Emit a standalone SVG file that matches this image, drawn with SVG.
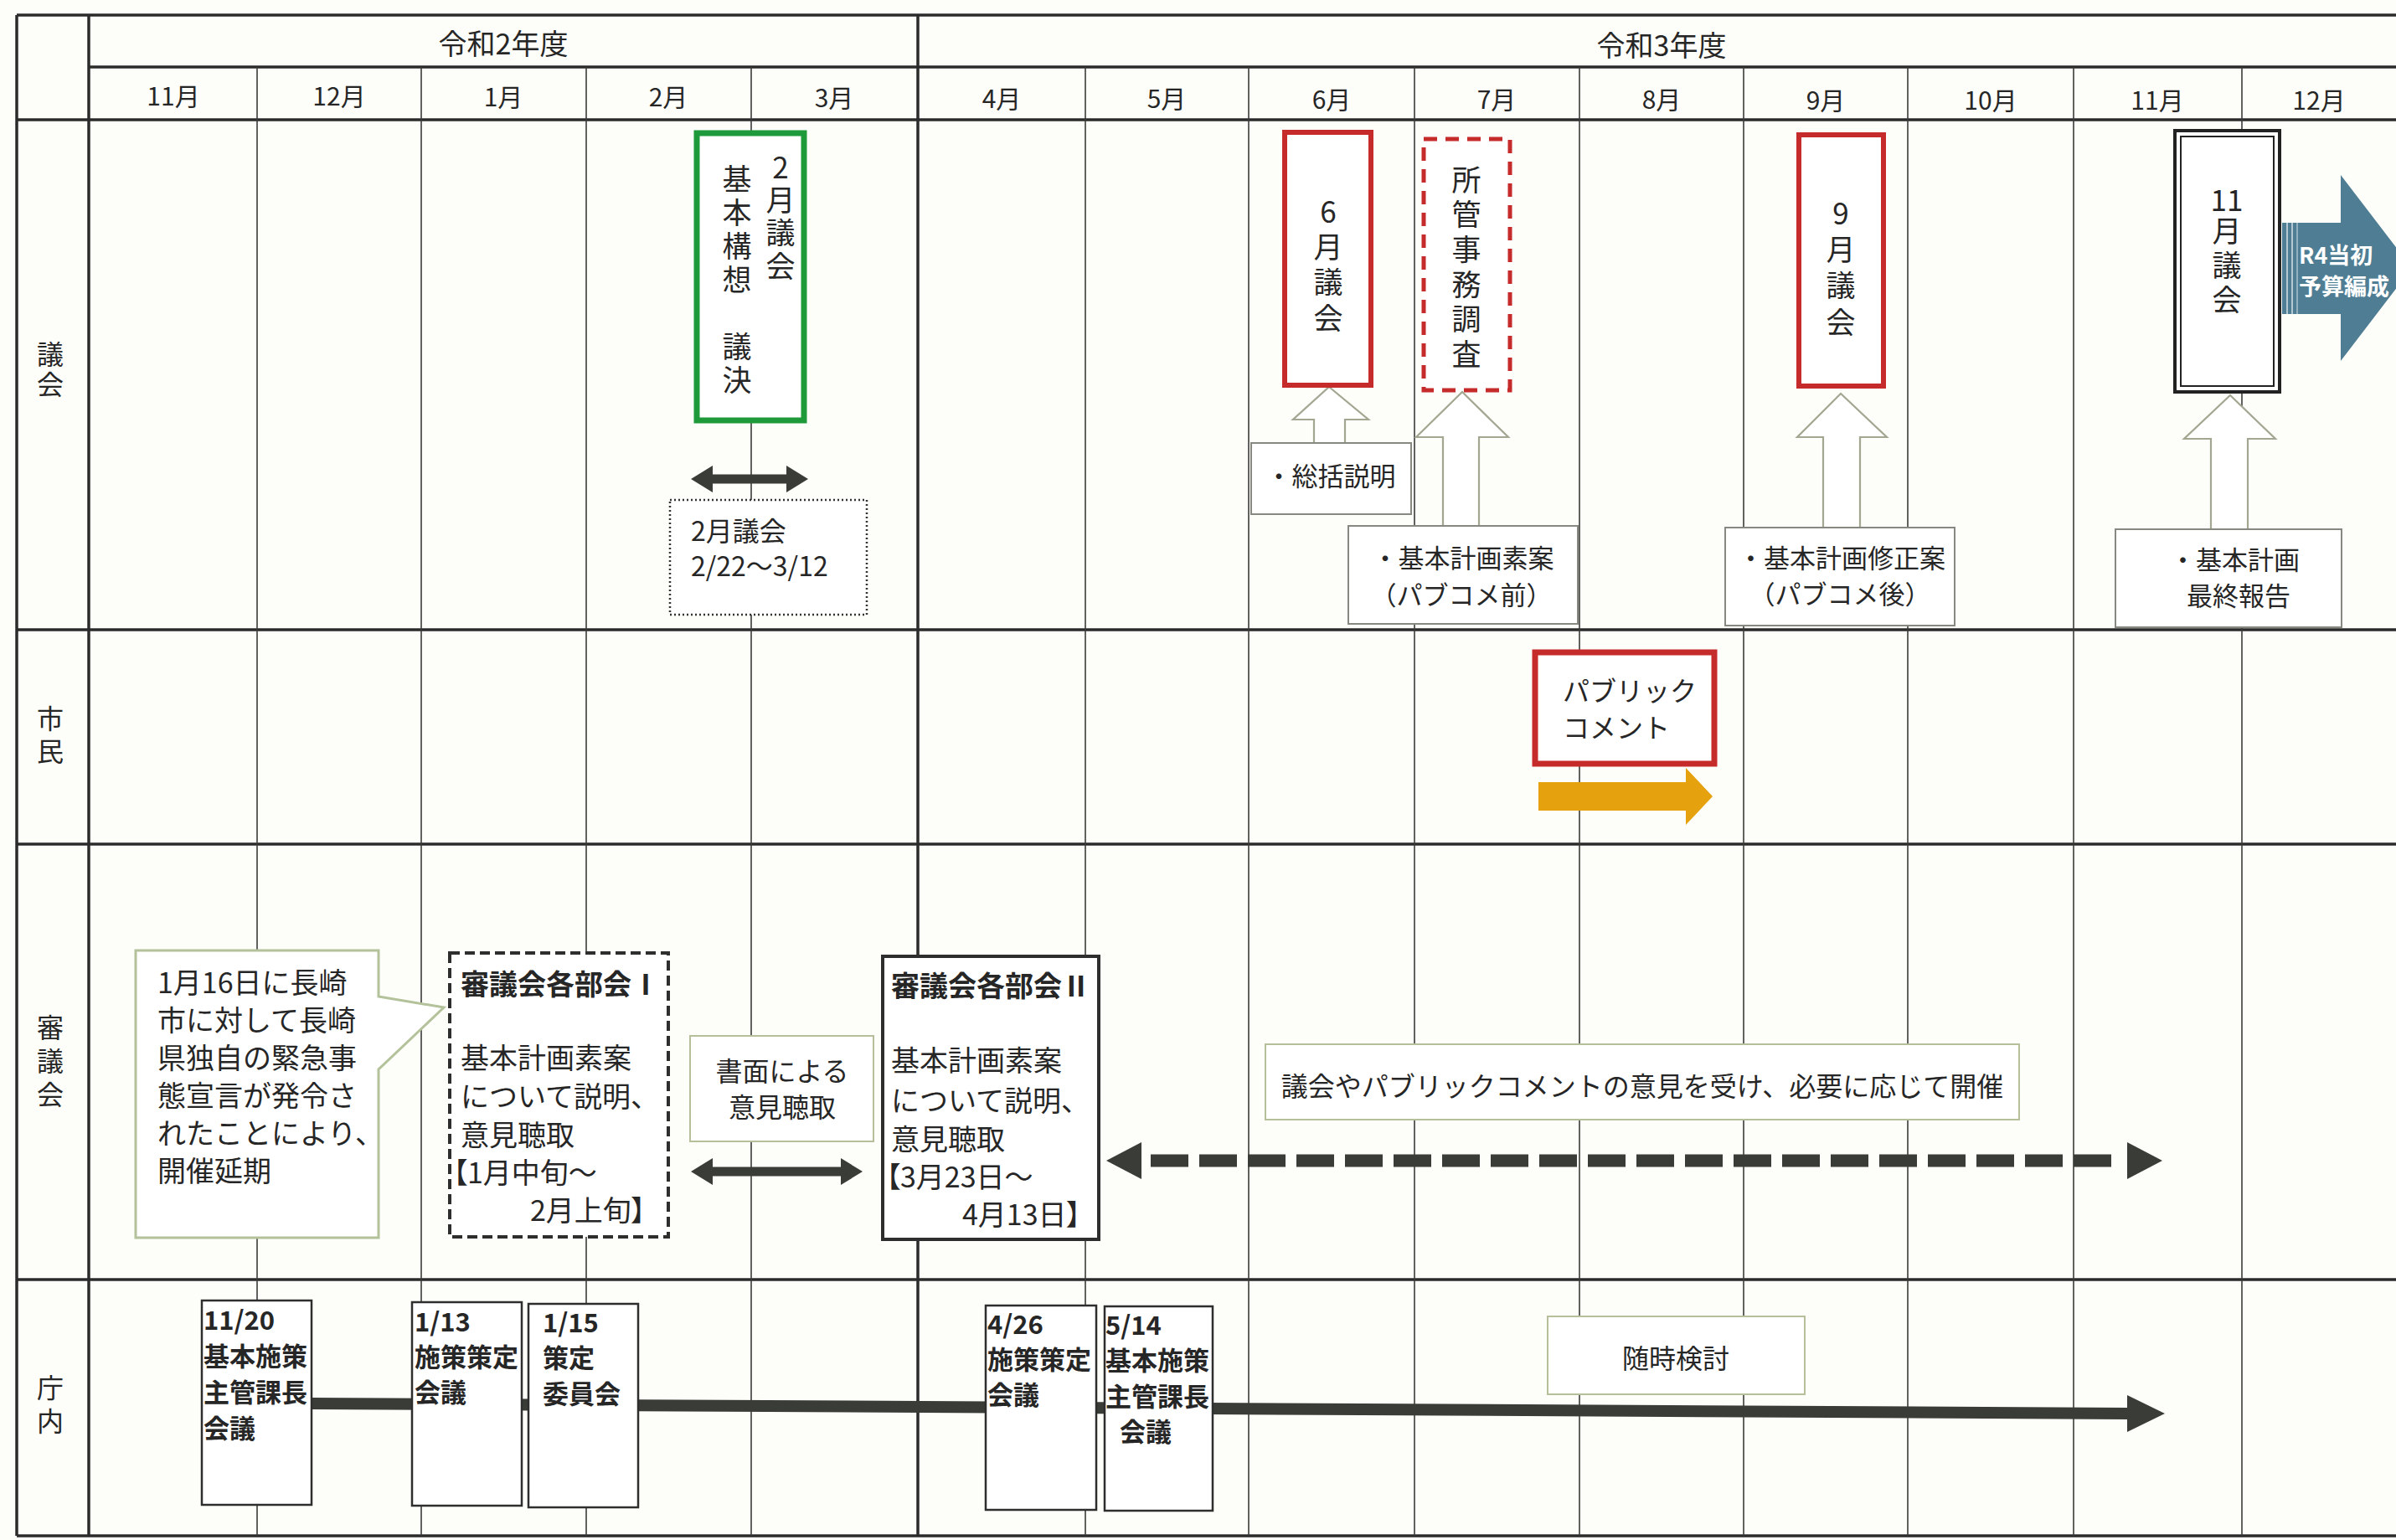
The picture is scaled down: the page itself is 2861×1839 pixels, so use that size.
<svg xmlns="http://www.w3.org/2000/svg" width="2861" height="1839" viewBox="0 0 2861 1839">
<style>
text{font-family:"Noto Sans CJK JP","Noto Sans CJK SC",sans-serif;fill:#262626;dominant-baseline:central}
.hd{font-size:34px;text-anchor:middle}
.mo{font-size:30px;text-anchor:middle}
.vt{writing-mode:vertical-rl;text-orientation:upright;font-size:35px}
.lbl{writing-mode:vertical-rl;text-orientation:upright;font-size:32px}
.s31{font-size:31px}
.s32{font-size:32px}
.s34{font-size:34px}
.mid{text-anchor:middle}
.bd{font-weight:700}
.palt{font-feature-settings:"palt"}
.hl{stroke:#2b2b2b;stroke-width:3.5;fill:none}
.vl{stroke:#3a3a3a;stroke-width:1.6}
.red{fill:#fff;stroke:#c62b2b;stroke-width:6}
.lite{fill:#fff;stroke:#b5c09b;stroke-width:2}
.hollow{fill:#fff;stroke:#a2a792;stroke-width:2.2}
.gbox{fill:#fff;stroke:#85897f;stroke-width:2}
.tbox{fill:#fff;stroke:#2e2e2e;stroke-width:2.5}
.dk{fill:#3a3c37}
.wt{fill:#ffffff;font-size:27px;font-weight:700}
</style>
<rect x="0" y="0" width="2861" height="1839" fill="#fdfdf9"/>

<g id="grid">
<line class="hl" x1="20" y1="18" x2="2861" y2="18"/>
<line class="hl" x1="106" y1="80" x2="2861" y2="80"/>
<line class="hl" x1="20" y1="143" x2="2861" y2="143"/>
<line class="hl" x1="20" y1="752" x2="2861" y2="752" stroke-width="2.5"/>
<line class="hl" x1="20" y1="1008" x2="2861" y2="1008" stroke-width="2.5"/>
<line class="hl" x1="20" y1="1528" x2="2861" y2="1528" stroke-width="3"/>
<line class="hl" x1="20" y1="1834" x2="2861" y2="1834" stroke-width="3"/>
<line class="hl" x1="20" y1="18" x2="20" y2="1834" stroke-width="4.5"/>
<line class="hl" x1="106" y1="18" x2="106" y2="1834" stroke-width="3"/>
<line class="hl" x1="1096" y1="18" x2="1096" y2="1834" stroke-width="3"/>
<line class="vl" x1="307" y1="80" x2="307" y2="1834"/>
<line class="vl" x1="503" y1="80" x2="503" y2="1834"/>
<line class="vl" x1="700" y1="80" x2="700" y2="1834"/>
<line class="vl" x1="897" y1="80" x2="897" y2="1834"/>
<line class="vl" x1="1296" y1="80" x2="1296" y2="1834"/>
<line class="vl" x1="1491" y1="80" x2="1491" y2="1834"/>
<line class="vl" x1="1689" y1="80" x2="1689" y2="1834"/>
<line class="vl" x1="1886" y1="80" x2="1886" y2="1834"/>
<line class="vl" x1="2082" y1="80" x2="2082" y2="1834"/>
<line class="vl" x1="2278" y1="80" x2="2278" y2="1834"/>
<line class="vl" x1="2476" y1="80" x2="2476" y2="1834"/>
<line class="vl" x1="2677" y1="80" x2="2677" y2="1834"/>
</g>

<g id="header">
<text class="hd" x="601" y="50">令和2年度</text>
<text class="hd" x="1984" y="52">令和3年度</text>
<text class="mo" x="207" y="113">11月</text>
<text class="mo" x="405" y="113">12月</text>
<text class="mo" x="601" y="114">1月</text>
<text class="mo" x="798" y="114">2月</text>
<text class="mo" x="996" y="115">3月</text>
<text class="mo" x="1196" y="116">4月</text>
<text class="mo" x="1393" y="116">5月</text>
<text class="mo" x="1590" y="117">6月</text>
<text class="mo" x="1787" y="117">7月</text>
<text class="mo" x="1984" y="117">8月</text>
<text class="mo" x="2180" y="118">9月</text>
<text class="mo" x="2377" y="118">10月</text>
<text class="mo" x="2576" y="118">11月</text>
<text class="mo" x="2769" y="118">12月</text>
</g>

<g id="row-labels">
<text class="lbl" x="60" y="407" letter-spacing="4">議会</text>
<text class="lbl" x="60" y="842" letter-spacing="7">市民</text>
<text class="lbl" x="60" y="1211" letter-spacing="8">審議会</text>
<text class="lbl" x="60" y="1641" letter-spacing="8">庁内</text>
</g>

<g id="connectors">
<polygon class="dk" points="825,572 851,556 851,566.5 939,566.5 939,556 965,572 939,588 939,577.5 851,577.5 851,588"/>
<polygon class="dk" points="825,1399 851,1383 851,1393.5 1004,1393.5 1004,1383 1030,1399 1004,1415 1004,1404.5 851,1404.5 851,1415"/>
<polygon class="dk" points="1321,1386 1363,1364 1363,1408"/>
<polygon class="dk" points="2582,1386 2540,1364 2540,1408"/>
<line x1="1374" y1="1386" x2="2524" y2="1386" stroke="#3a3c37" stroke-width="15" stroke-dasharray="45 13"/>
<polygon class="dk" points="372,1669 2540,1681 2540,1666 2585,1688 2540,1710 2540,1695 372,1683"/>
<polygon class="hollow" points="1587,462 1634,501 1606,501 1606,529 1569,529 1569,501 1544,501"/>
<polygon class="hollow" points="1746,468 1801,522 1766,522 1766,628 1723,628 1723,522 1691,522"/>
<polygon class="hollow" points="2198,470 2253,522 2221,522 2221,630 2177,630 2177,522 2146,522"/>
<polygon class="hollow" points="2663,472 2717,524 2684,524 2684,632 2640,632 2640,524 2608,524"/>
<polygon fill="#e5a10e" points="1837,934 2013,934 2013,917 2045,951 2013,985 2013,968 1837,968"/>
</g>

<g id="n-feb-council">
<rect x="832" y="159" width="128" height="343" fill="#fff" stroke="#1e9a3a" stroke-width="7"/>
<text class="vt" x="932" y="182" letter-spacing="4.3">2月議会</text>
<text class="vt" x="880" y="196" letter-spacing="5">基本構想　議決</text>
</g>

<g id="n-feb-session">
<rect x="800" y="597" width="235" height="137" fill="#fff" stroke="#333" stroke-width="2.5" stroke-dasharray="2 3"/>
<text class="s32" x="825" y="632">2月議会</text>
<text class="s32" x="825" y="674">2/22～3/12</text>
</g>

<g id="n-jun-council">
<rect class="red" x="1534" y="158" width="103" height="302"/>
<text class="vt" x="1586" y="235" letter-spacing="7.3">6月議会</text>
</g>

<g id="n-committee">
<rect x="1700" y="166" width="103" height="300" fill="#fff" stroke="#c62b2b" stroke-width="5" stroke-dasharray="16 10"/>
<text class="vt" x="1751" y="197" letter-spacing="6.6">所管事務調査</text>
</g>

<g id="n-sep-council">
<rect class="red" x="2148" y="161" width="101" height="300"/>
<text class="vt" x="2198" y="237" letter-spacing="8.3">9月議会</text>
</g>

<g id="n-nov-council">
<rect x="2597" y="156" width="125" height="312" fill="#fff" stroke="#222" stroke-width="4"/>
<rect x="2604" y="163" width="111" height="298" fill="none" stroke="#222" stroke-width="2"/>
<text class="mid" x="2659" y="236" font-size="35">11</text>
<text class="vt" x="2659" y="258" letter-spacing="6">月議会</text>
</g>

<g id="n-budget">
<polygon fill="#4f7e94" points="2725,266 2795,266 2795,209 2880,320 2795,431 2795,375 2725,375"/>
<line x1="2731" y1="266" x2="2731" y2="375" stroke="#d6e2e8" stroke-width="1.5"/>
<line x1="2737" y1="266" x2="2737" y2="375" stroke="#d6e2e8" stroke-width="1.5"/>
<line x1="2743" y1="266" x2="2743" y2="375" stroke="#d6e2e8" stroke-width="1"/>
<text class="wt" x="2745" y="303">R4当初</text>
<text class="wt" x="2745" y="340">予算編成</text>
</g>

<g id="n-summary">
<rect class="gbox" x="1494" y="529" width="191" height="85"/>
<text class="s31 mid" x="1589" y="566">・総括説明</text>
</g>

<g id="n-draft">
<rect class="gbox" x="1610" y="628" width="274" height="117" stroke="#a9ad9f"/>
<text class="s31 mid" x="1747" y="664">・基本計画素案</text>
<text class="s31 mid" x="1745" y="708">（パブコメ前）</text>
</g>

<g id="n-revised">
<rect class="gbox" x="2060" y="630" width="274" height="117" stroke="#a9ad9f"/>
<text class="s31 mid" x="2199" y="664">・基本計画修正案</text>
<text class="s31 mid" x="2197" y="707">（パブコメ後）</text>
</g>

<g id="n-final">
<rect class="gbox" x="2526" y="632" width="270" height="117" stroke="#a9ad9f"/>
<text class="s31" x="2591" y="666">・基本計画</text>
<text class="s31" x="2611" y="709">最終報告</text>
</g>

<g id="n-public-comment">
<rect x="1833" y="779" width="214" height="133" fill="#fff" stroke="#c62b2b" stroke-width="7"/>
<text class="s32" x="1866" y="823">パブリック</text>
<text class="s32" x="1866" y="867">コメント</text>
</g>

<g id="n-callout">
<polygon points="162,1135 452,1135 452,1190 530,1203 452,1277 452,1478 162,1478" fill="#fff" stroke="#b3c29a" stroke-width="3"/>
<text class="s34" x="188" y="1171">1月16日に長崎</text>
<text class="s34" x="188" y="1216">市に対して長崎</text>
<text class="s34" x="188" y="1261">県独自の緊急事</text>
<text class="s34" x="188" y="1306">態宣言が発令さ</text>
<text class="s34" x="188" y="1351">れたことにより、</text>
<text class="s34" x="188" y="1396">開催延期</text>
</g>

<g id="n-subcommittee1">
<rect x="537" y="1138" width="261" height="339" fill="#fff" stroke="#2e2e2e" stroke-width="4" stroke-dasharray="12 6"/>
<text class="s34 bd" x="550" y="1173">審議会各部会Ⅰ</text>
<text class="s34" x="550" y="1261">基本計画素案</text>
<text class="s34" x="550" y="1307">について説明、</text>
<text class="s34" x="550" y="1353">意見聴取</text>
<text class="s34 palt" x="541" y="1398">【1月中旬～</text>
<text class="s34 palt" x="633" y="1443">2月上旬】</text>
</g>

<g id="n-written">
<rect class="lite" x="824" y="1237" width="219" height="126"/>
<text class="s32 mid" x="934" y="1277">書面による</text>
<text class="s32 mid" x="934" y="1320">意見聴取</text>
</g>

<g id="n-subcommittee2">
<rect x="1054" y="1142" width="258" height="338" fill="#fff" stroke="#2e2e2e" stroke-width="4"/>
<text class="s34 bd" x="1064" y="1175" font-size="33">審議会各部会Ⅱ</text>
<text class="s34" x="1064" y="1264">基本計画素案</text>
<text class="s34" x="1064" y="1312">について説明、</text>
<text class="s34" x="1064" y="1358">意見聴取</text>
<text class="s34 palt" x="1058" y="1403">【3月23日～</text>
<text class="s34 palt" x="1149" y="1448">4月13日】</text>
</g>

<g id="n-as-needed">
<rect class="lite" x="1511" y="1247" width="900" height="90"/>
<text class="s32 mid" x="1961" y="1295">議会やパブリックコメントの意見を受け、必要に応じて開催</text>
</g>

<g id="n-1120">
<rect class="tbox" x="241" y="1553" width="131" height="244"/>
<text class="s31 bd" x="243" y="1574">11/20</text>
<text class="s31 bd" x="243" y="1617">基本施策</text>
<text class="s31 bd" x="243" y="1660">主管課長</text>
<text class="s31 bd" x="243" y="1703">会議</text>
</g>

<g id="n-0113">
<rect class="tbox" x="492" y="1555" width="131" height="243"/>
<text class="s31 bd" x="495" y="1576">1/13</text>
<text class="s31 bd" x="495" y="1618">施策策定</text>
<text class="s31 bd" x="495" y="1660">会議</text>
</g>

<g id="n-0115">
<rect class="tbox" x="631" y="1557" width="131" height="243"/>
<text class="s31 bd" x="648" y="1577">1/15</text>
<text class="s31 bd" x="648" y="1619">策定</text>
<text class="s31 bd" x="648" y="1662">委員会</text>
</g>

<g id="n-0426">
<rect class="tbox" x="1177" y="1559" width="132" height="244"/>
<text class="s31 bd" x="1179" y="1579">4/26</text>
<text class="s31 bd" x="1179" y="1621">施策策定</text>
<text class="s31 bd" x="1179" y="1663">会議</text>
</g>

<g id="n-0514">
<rect class="tbox" x="1319" y="1560" width="129" height="244"/>
<text class="s31 bd" x="1320" y="1580">5/14</text>
<text class="s31 bd" x="1320" y="1622">基本施策</text>
<text class="s31 bd" x="1320" y="1665">主管課長</text>
<text class="s31 bd" x="1337" y="1707">会議</text>
</g>

<g id="n-ongoing">
<rect class="lite" x="1848" y="1572" width="307" height="93"/>
<text class="s32 mid" x="2001" y="1620">随時検討</text>
</g>
</svg>
